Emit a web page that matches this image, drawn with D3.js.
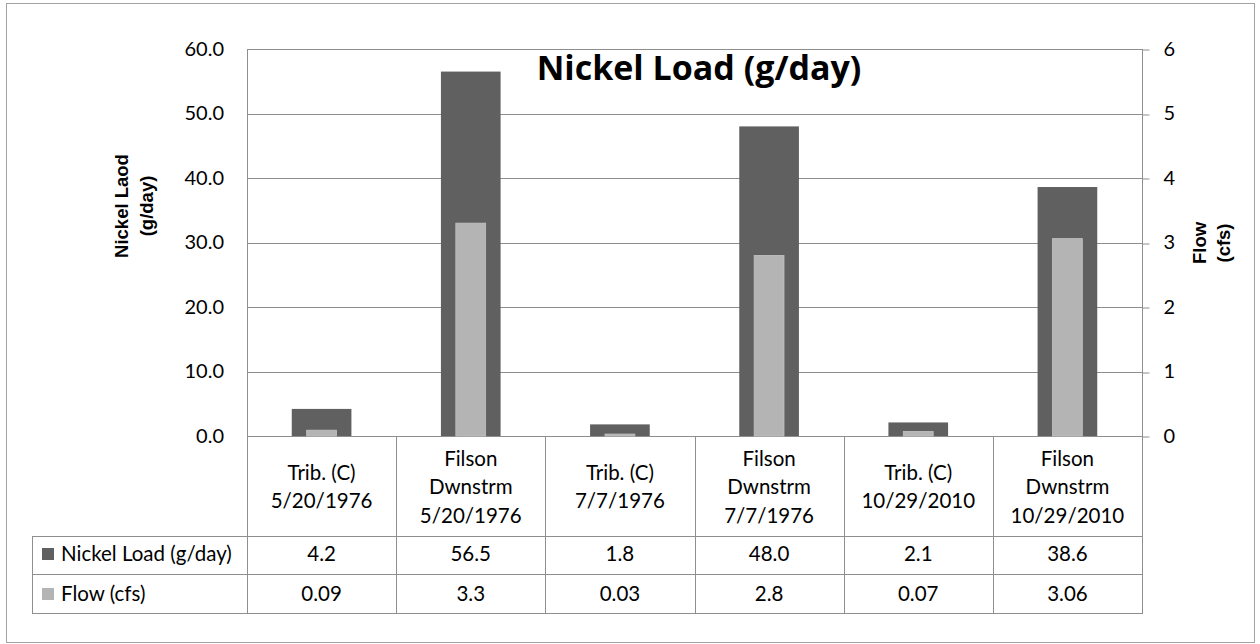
<!DOCTYPE html>
<html>
<head>
<meta charset="utf-8">
<script src="https://cdn.jsdelivr.net/npm/d3@7"></script>
<style>
  html, body { margin: 0; padding: 0; background: #fff; }
  svg { display: block; }
</style>
</head>
<body>
<svg id="chart" width="1260" height="644"></svg>
<script>
// ---- Data ----
const categories = [
  ["Trib. (C)", "5/20/1976"],
  ["Filson", "Dwnstrm", "5/20/1976"],
  ["Trib. (C)", "7/7/1976"],
  ["Filson", "Dwnstrm", "7/7/1976"],
  ["Trib. (C)", "10/29/2010"],
  ["Filson", "Dwnstrm", "10/29/2010"]
];
const nickelLoad = [4.2, 56.5, 1.8, 48.0, 2.1, 38.6];
const flow = [0.09, 3.3, 0.03, 2.8, 0.07, 3.06];
const nickelLabels = ["4.2", "56.5", "1.8", "48.0", "2.1", "38.6"];
const flowLabels = ["0.09", "3.3", "0.03", "2.8", "0.07", "3.06"];
const leftTicks = [0, 10, 20, 30, 40, 50, 60];
const rightTicks = [0, 1, 2, 3, 4, 5, 6];
const seriesNames = ["Nickel Load (g/day)", "Flow (cfs)"];
const title = "Nickel Load (g/day)";
const leftTitle = ["Nickel Laod", "(g/day)"];
const rightTitle = ["Flow", "(cfs)"];

// ---- Layout ----
const svg = d3.select("#chart");
const P = { left: 247, right: 1142, top: 49, bottom: 436 };
const T = { left: 32, head: 536, row1: 574, row2: 613 };
const darkC = "#606060", lightC = "#b4b4b4", lineC = "#8e8e8e";
const bodyFont = "Lato, 'Open Sans', sans-serif";

svg.append("rect").attr("x", 0).attr("y", 0).attr("width", 1260).attr("height", 644).attr("fill", "#fff");
svg.append("rect").attr("x", 6.5).attr("y", 3.5).attr("width", 1248).attr("height", 639)
  .attr("fill", "none").attr("stroke", "#a3a3a3").attr("stroke-width", 1);

const x = d3.scaleBand().domain(d3.range(categories.length)).range([P.left, P.right]).padding(0);
const yL = d3.scaleLinear().domain([0, 60]).range([P.bottom, P.top]);
const yR = d3.scaleLinear().domain([0, 6]).range([P.bottom, P.top]);
const bw = x.bandwidth();

// gridlines
svg.append("g").selectAll("line").data(leftTicks).join("line")
  .attr("x1", P.left).attr("x2", P.right)
  .attr("y1", d => Math.round(yL(d)) + 0.5).attr("y2", d => Math.round(yL(d)) + 0.5)
  .attr("stroke", lineC).attr("stroke-width", 1);

// left axis labels
const gL = svg.append("g").attr("transform", `translate(${P.left},0)`)
  .call(d3.axisLeft(yL).tickValues(leftTicks).tickSize(0).tickPadding(23).tickFormat(d3.format(".1f")));
gL.select(".domain").remove();
gL.selectAll("text").attr("font-family", bodyFont).attr("font-size", 20).attr("fill", "#000");

// right axis
const gR = svg.append("g").attr("transform", `translate(${P.right + 0.5},0)`)
  .call(d3.axisRight(yR).tickValues(rightTicks).tickSize(7).tickSizeOuter(0).tickPadding(14).tickFormat(d3.format("d")));
gR.select(".domain").remove();
gR.selectAll("line").attr("stroke", lineC).attr("transform", function(d){ return `translate(0,${Math.round(yR(d)) + 0.5 - yR(d)})`; });
gR.selectAll("text").attr("font-family", bodyFont).attr("font-size", 20).attr("fill", "#000");

// bars
const darkW = bw * 0.40, lightW = bw * 0.20;
svg.append("g").selectAll("rect").data(nickelLoad).join("rect")
  .attr("x", (d, i) => x(i) + (bw - darkW) / 2).attr("width", darkW)
  .attr("y", d => yL(d)).attr("height", d => yL(0) - yL(d))
  .attr("fill", darkC);
svg.append("g").selectAll("rect").data(flow).join("rect")
  .attr("x", (d, i) => x(i) + (bw - lightW) / 2).attr("width", lightW)
  .attr("y", d => yR(d)).attr("height", d => yR(0) - yR(d))
  .attr("fill", lightC).attr("stroke", "#c4c4c4").attr("stroke-width", 0.8);

// table lines
const tl = svg.append("g").attr("stroke", lineC).attr("stroke-width", 1);
[T.head, T.row1, T.row2].forEach(y => {
  tl.append("line").attr("x1", T.left).attr("x2", P.right + 0.5).attr("y1", y + 0.5).attr("y2", y + 0.5);
});
tl.append("line").attr("x1", T.left + 0.5).attr("x2", T.left + 0.5).attr("y1", T.head).attr("y2", T.row2 + 1);
tl.append("line").attr("x1", P.left + 0.5).attr("x2", P.left + 0.5).attr("y1", P.top).attr("y2", T.row2 + 1);
tl.append("line").attr("x1", P.right + 0.5).attr("x2", P.right + 0.5).attr("y1", P.top).attr("y2", T.row2 + 1);
d3.range(1, categories.length).forEach(i => {
  const xx = Math.round(x(i)) + 0.5;
  tl.append("line").attr("x1", xx).attr("x2", xx).attr("y1", P.bottom).attr("y2", T.row2 + 1);
});

// category labels
const lineH = 28.5, headMid = 494;
categories.forEach((lines, i) => {
  const t = svg.append("text").attr("text-anchor", "middle")
    .attr("font-family", bodyFont).attr("font-size", 20.5).attr("fill", "#000");
  const y0 = headMid - (lines.length - 1) * lineH / 2;
  lines.forEach((s, k) => {
    t.append("tspan").attr("x", x(i) + bw / 2).attr("y", y0 + k * lineH).text(s);
  });
});

// values rows
const rowBase = [561, 601];
[nickelLabels, flowLabels].forEach((arr, r) => {
  svg.append("g").selectAll("text").data(arr).join("text")
    .attr("x", (d, i) => x(i) + bw / 2).attr("y", rowBase[r])
    .attr("text-anchor", "middle").attr("font-family", bodyFont).attr("font-size", 20.5).attr("fill", "#000")
    .text(d => d);
});

// legend column
[darkC, lightC].forEach((c, r) => {
  svg.append("rect").attr("x", 42).attr("y", rowBase[r] - 13).attr("width", 12).attr("height", 12).attr("fill", c);
  svg.append("text").attr("x", 61).attr("y", rowBase[r])
    .attr("font-family", bodyFont).attr("font-size", 20.5).attr("fill", "#000").text(seriesNames[r]);
});

// title
svg.append("text").attr("x", 699).attr("y", 80).attr("text-anchor", "middle")
  .attr("font-family", "'Open Sans', Lato, sans-serif").attr("font-weight", 700).attr("font-size", 34).attr("fill", "#000")
  .text(title);

// axis titles
const axFont = "'Liberation Sans', Arial, sans-serif";
const lt = svg.append("text").attr("transform", "translate(0,206) rotate(-90)")
  .attr("text-anchor", "middle").attr("font-family", axFont).attr("font-weight", 700).attr("font-size", 18.5).attr("fill", "#000");
leftTitle.forEach((s, k) => lt.append("tspan").attr("x", 0).attr("y", 128 + k * 25).text(s));
const rt = svg.append("text").attr("transform", "translate(0,243) rotate(-90)")
  .attr("text-anchor", "middle").attr("font-family", axFont).attr("font-weight", 700).attr("font-size", 18.5).attr("fill", "#000");
rightTitle.forEach((s, k) => rt.append("tspan").attr("x", 0).attr("y", 1206 + k * 24).text(s));
</script>
</body>
</html>
